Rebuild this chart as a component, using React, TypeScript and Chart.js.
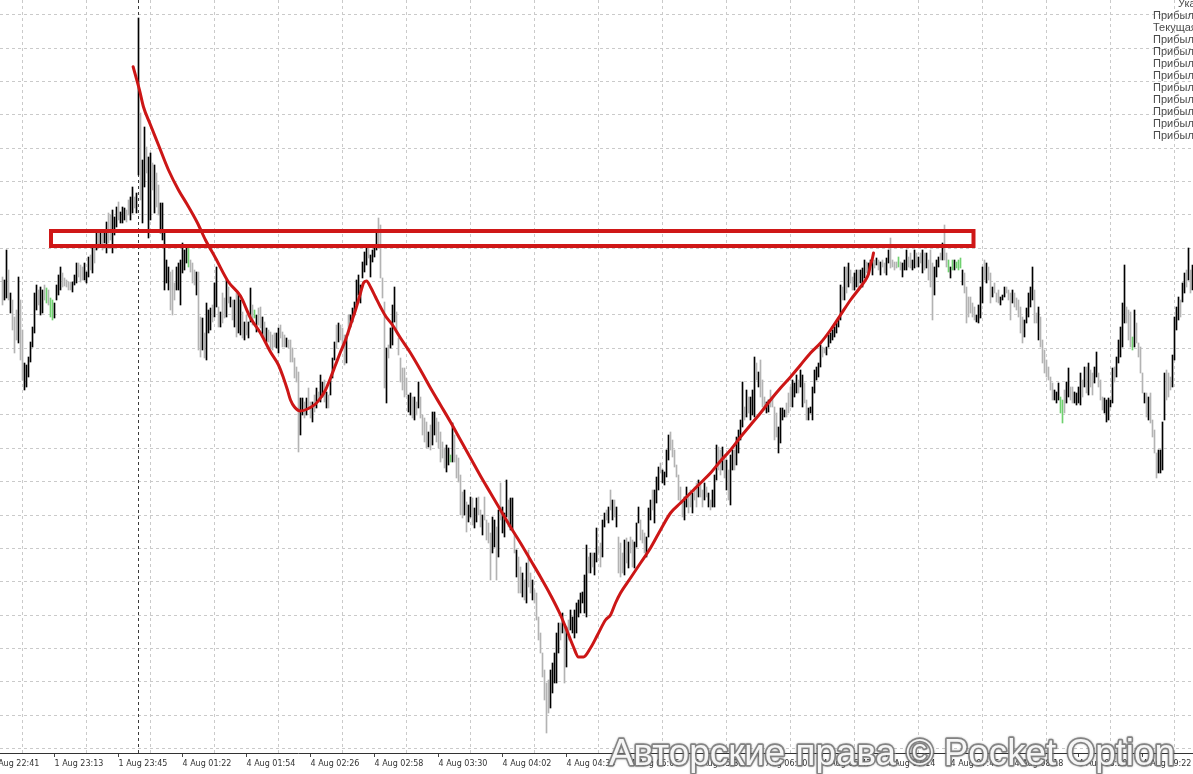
import React, { useEffect, useRef } from 'react';
import { Chart, registerables } from 'chart.js';

Chart.register(...registerables);

// ---- time axis (one label every 32 one-minute bars) ----
const TIME_LABELS = [
  '1 Aug 22:41', '1 Aug 23:13', '1 Aug 23:45', '4 Aug 01:22', '4 Aug 01:54', '4 Aug 02:26',
  '4 Aug 02:58', '4 Aug 03:30', '4 Aug 04:02', '4 Aug 04:34', '4 Aug 05:06', '4 Aug 05:38',
  '4 Aug 06:10', '4 Aug 06:42', '4 Aug 07:14', '4 Aug 07:46', '4 Aug 08:18', '4 Aug 08:50',
  '4 Aug 09:22',
];
const FIRST_LABEL_BAR = -6;
const BARS_PER_LABEL = 32;

// ---- price bars (points) ----
const BAR_HIGH = [
  1714, 1705, 1795, 1735, 1666, 1645, 1594, 1615, 1714, 1645,
  1555, 1456, 1450, 1474, 1519, 1564, 1666, 1690, 1675, 1684,
  1675, 1690, 1681, 1675, 1651, 1645, 1636, 1690, 1720, 1744,
  1726, 1711, 1705, 1699, 1699, 1699, 1720, 1756, 1756, 1750,
  1744, 1756, 1729, 1774, 1780, 1804, 1804, 1846, 1846, 1855,
  1846, 1855, 1879, 1906, 1900, 1915, 1894, 1924, 1939, 1909,
  1924, 1921, 1915, 1945, 1954, 1984, 1954, 1966, 2491, 2206,
  2065, 2164, 2104, 2074, 2086, 2056, 2050, 2026, 1990, 1936,
  1936, 1855, 1765, 1744, 1729, 1735, 1696, 1744, 1756, 1765,
  1816, 1795, 1804, 1801, 1765, 1756, 1735, 1729, 1729, 1594,
  1591, 1546, 1636, 1615, 1621, 1630, 1696, 1744, 1624, 1609,
  1666, 1651, 1705, 1684, 1654, 1645, 1645, 1666, 1666, 1645,
  1609, 1579, 1600, 1579, 1681, 1630, 1615, 1600, 1621, 1624,
  1594, 1579, 1561, 1555, 1549, 1540, 1546, 1546, 1561, 1570,
  1549, 1540, 1531, 1525, 1525, 1501, 1471, 1444, 1429, 1351,
  1351, 1339, 1351, 1381, 1339, 1339, 1360, 1381, 1369, 1420,
  1399, 1405, 1369, 1360, 1411, 1471, 1519, 1570, 1576, 1570,
  1561, 1540, 1540, 1600, 1600, 1621, 1639, 1705, 1720, 1690,
  1759, 1789, 1810, 1801, 1780, 1795, 1810, 1849, 1891, 1870,
  1711, 1639, 1501, 1510, 1561, 1630, 1684, 1609, 1531, 1471,
  1441, 1441, 1411, 1360, 1366, 1354, 1354, 1339, 1399, 1354,
  1300, 1291, 1279, 1249, 1270, 1309, 1309, 1291, 1279, 1249,
  1219, 1201, 1210, 1201, 1180, 1276, 1240, 1180, 1171, 1120,
  1069, 1075, 1039, 1030, 1054, 1051, 1021, 1051, 1054, 1015,
  1000, 1054, 985, 976, 946, 994, 985, 964, 1015, 1096,
  1024, 1006, 1105, 1045, 1051, 1051, 946, 895, 874, 844,
  826, 805, 856, 895, 826, 805, 775, 766, 694, 646,
  586, 535, 496, 505, 535, 556, 586, 646, 676, 676,
  706, 664, 664, 685, 715, 694, 715, 736, 745, 766,
  769, 820, 910, 874, 886, 886, 886, 961, 904, 916,
  985, 1006, 1015, 1024, 1075, 1045, 1045, 1024, 934, 916,
  886, 925, 931, 919, 934, 925, 919, 976, 1024, 985,
  955, 946, 934, 1021, 1045, 1075, 1075, 1114, 1144, 1156,
  1135, 1129, 1195, 1240, 1249, 1225, 1195, 1150, 1120, 1084,
  1045, 1054, 1084, 1066, 1075, 1066, 1084, 1096, 1105, 1096,
  1075, 1096, 1084, 1066, 1045, 1075, 1120, 1210, 1204, 1195,
  1204, 1180, 1165, 1135, 1180, 1195, 1195, 1234, 1255, 1285,
  1399, 1324, 1375, 1354, 1354, 1375, 1474, 1456, 1429, 1465,
  1405, 1354, 1339, 1345, 1375, 1354, 1324, 1306, 1264, 1321,
  1321, 1315, 1336, 1366, 1384, 1405, 1396, 1420, 1405, 1435,
  1420, 1396, 1345, 1321, 1324, 1384, 1435, 1444, 1456, 1510,
  1504, 1501, 1504, 1540, 1546, 1555, 1564, 1576, 1591, 1690,
  1684, 1744, 1744, 1756, 1735, 1714, 1726, 1735, 1735, 1735,
  1741, 1765, 1759, 1756, 1765, 1765, 1765, 1771, 1765, 1759,
  1765, 1756, 1771, 1795, 1831, 1765, 1759, 1759, 1774, 1759,
  1756, 1765, 1795, 1774, 1786, 1765, 1795, 1786, 1774, 1786,
  1795, 1786, 1786, 1765, 1795, 1756, 1744, 1765, 1774, 1786,
  1816, 1870, 1786, 1765, 1744, 1765, 1765, 1759, 1765, 1771,
  1735, 1726, 1684, 1654, 1654, 1636, 1624, 1600, 1630, 1684,
  1744, 1765, 1756, 1744, 1726, 1684, 1696, 1666, 1675, 1654,
  1660, 1684, 1684, 1675, 1666, 1675, 1666, 1651, 1645, 1624,
  1594, 1585, 1621, 1666, 1684, 1744, 1675, 1606, 1624, 1594,
  1525, 1495, 1465, 1444, 1414, 1396, 1375, 1369, 1396, 1354,
  1345, 1375, 1399, 1441, 1384, 1384, 1369, 1366, 1384, 1426,
  1405, 1444, 1444, 1456, 1435, 1426, 1444, 1489, 1426, 1405,
  1354, 1351, 1345, 1351, 1345, 1441, 1444, 1474, 1525, 1564,
  1636, 1750, 1624, 1615, 1609, 1534, 1615, 1576, 1516, 1504,
  1426, 1366, 1366, 1354, 1366, 1285, 1255, 1186, 1195, 1195,
  1279, 1426, 1435, 1426, 1414, 1480, 1594, 1624, 1654, 1645,
  1696, 1726, 1735, 1801, 1735, 1750,
];

const BAR_LOW = [
  1630, 1645, 1651, 1645, 1606, 1555, 1486, 1525, 1516, 1465,
  1405, 1375, 1384, 1414, 1459, 1504, 1546, 1615, 1630, 1600,
  1606, 1645, 1636, 1630, 1594, 1585, 1591, 1645, 1660, 1675,
  1684, 1687, 1684, 1675, 1675, 1669, 1690, 1696, 1714, 1699,
  1705, 1705, 1696, 1714, 1735, 1726, 1756, 1795, 1801, 1804,
  1795, 1816, 1786, 1816, 1825, 1786, 1840, 1864, 1885, 1876,
  1876, 1885, 1879, 1900, 1885, 1906, 1921, 1906, 2020, 1945,
  1876, 1984, 2026, 1831, 1885, 1975, 1906, 1924, 1900, 1846,
  1825, 1675, 1696, 1675, 1615, 1600, 1645, 1675, 1675, 1630,
  1726, 1735, 1756, 1744, 1729, 1696, 1690, 1660, 1495, 1474,
  1495, 1471, 1465, 1546, 1555, 1579, 1594, 1624, 1564, 1564,
  1576, 1591, 1594, 1636, 1624, 1585, 1564, 1534, 1546, 1540,
  1531, 1525, 1540, 1531, 1579, 1570, 1591, 1549, 1570, 1561,
  1534, 1525, 1519, 1519, 1501, 1495, 1504, 1501, 1486, 1531,
  1504, 1504, 1504, 1501, 1459, 1459, 1411, 1399, 1189, 1240,
  1300, 1291, 1300, 1321, 1291, 1279, 1309, 1321, 1339, 1339,
  1354, 1339, 1321, 1321, 1360, 1411, 1465, 1501, 1519, 1525,
  1501, 1450, 1456, 1540, 1564, 1579, 1600, 1630, 1660, 1636,
  1711, 1729, 1750, 1771, 1714, 1759, 1774, 1795, 1801, 1711,
  1651, 1381, 1336, 1471, 1501, 1510, 1579, 1549, 1480, 1399,
  1375, 1354, 1360, 1309, 1300, 1291, 1285, 1300, 1321, 1291,
  1240, 1219, 1201, 1204, 1195, 1210, 1240, 1219, 1201, 1159,
  1171, 1141, 1129, 1150, 1159, 1159, 1159, 1111, 1099, 1000,
  991, 1000, 949, 979, 994, 970, 961, 979, 1000, 964,
  940, 985, 925, 916, 805, 886, 904, 805, 874, 985,
  946, 934, 994, 964, 955, 955, 886, 814, 766, 766,
  754, 745, 736, 784, 766, 745, 736, 685, 625, 586,
  514, 445, 346, 406, 421, 466, 496, 496, 586, 625,
  646, 496, 544, 625, 655, 646, 631, 646, 694, 706,
  736, 706, 694, 826, 826, 844, 820, 859, 886, 844,
  874, 964, 985, 976, 1015, 985, 994, 964, 826, 814,
  826, 820, 856, 841, 886, 844, 841, 904, 976, 925,
  916, 886, 874, 934, 985, 1015, 976, 1036, 1075, 1126,
  1096, 1090, 1114, 1165, 1195, 1174, 1144, 1114, 1045, 1036,
  994, 985, 1024, 1006, 1024, 1006, 1045, 1024, 1054, 1054,
  1024, 1045, 1054, 1024, 1015, 1024, 1024, 1105, 1135, 1120,
  1135, 1111, 1075, 1045, 1030, 1135, 1135, 1150, 1186, 1225,
  1264, 1285, 1294, 1306, 1285, 1300, 1294, 1405, 1384, 1354,
  1324, 1315, 1306, 1309, 1324, 1324, 1225, 1234, 1186, 1216,
  1285, 1294, 1294, 1306, 1324, 1324, 1354, 1366, 1366, 1384,
  1324, 1336, 1285, 1285, 1306, 1285, 1366, 1405, 1414, 1444,
  1474, 1486, 1480, 1504, 1516, 1525, 1534, 1546, 1564, 1585,
  1645, 1645, 1666, 1684, 1696, 1675, 1675, 1684, 1684, 1696,
  1684, 1711, 1726, 1726, 1750, 1720, 1741, 1750, 1735, 1720,
  1744, 1726, 1720, 1756, 1741, 1744, 1735, 1741, 1744, 1735,
  1714, 1735, 1735, 1744, 1741, 1735, 1741, 1744, 1744, 1756,
  1726, 1735, 1741, 1705, 1684, 1585, 1660, 1714, 1744, 1765,
  1765, 1765, 1744, 1729, 1711, 1735, 1735, 1741, 1735, 1741,
  1690, 1666, 1576, 1594, 1606, 1594, 1585, 1579, 1576, 1591,
  1636, 1705, 1696, 1705, 1636, 1654, 1666, 1639, 1636, 1630,
  1645, 1654, 1666, 1645, 1585, 1636, 1624, 1615, 1594, 1546,
  1516, 1534, 1576, 1594, 1624, 1645, 1576, 1576, 1525, 1504,
  1456, 1426, 1414, 1405, 1375, 1345, 1345, 1336, 1345, 1306,
  1276, 1306, 1336, 1354, 1345, 1336, 1336, 1330, 1336, 1330,
  1354, 1384, 1366, 1360, 1384, 1360, 1396, 1414, 1384, 1345,
  1315, 1306, 1279, 1285, 1324, 1336, 1399, 1414, 1456, 1474,
  1504, 1576, 1576, 1525, 1504, 1495, 1504, 1516, 1474, 1426,
  1366, 1336, 1294, 1285, 1276, 1234, 1186, 1111, 1126, 1126,
  1135, 1285, 1345, 1354, 1375, 1384, 1465, 1555, 1585, 1594,
  1639, 1666, 1684, 1705, 1666, 1675,
];

// k = up bar (black), s = down bar (silver), g = unchanged bar (green)
const BAR_KIND = `
s k k s k s s s k s  s k k k k k k k s k  k s g s g g k k k k  s s s s s k k k s s
s k k k s k s k s k  s k k s s k k k s k  k k s s k k s k k s  k k s k k s k s s k
k k k k s s s k k k  k k k g s s s k s s  k s k k k s k k s k  s s k s k s k s k k
s k s k k s g k s s  k s k s s s s k k s  s s k s s s s s s k  k s k s s k s k s k
k s k s k k k s k s  s s k s k k k k k k  k k k s k k k k s s  s s k s k k k s s s
s s s k k s k s k s  s s s k s k k s s s  s s k k g k s s s s  s k s k k s k k s s
k s s s s k k s k s  k k k s k k s k s s  k s k s s k s s s s  s s s s k k k k k s
k s k s k k k k k k  k k k s k s k k s s  k k s k s k s k s s  s k s k s s k k k s
s s k k k s k k k s  k k k k s s s s s s  s k k s s k s s k s  s k s k s k k k s s
k s k s k k s k k k  k s k s k k k s k s  s s k k s s s s k k  k k s s s k k k s k
k s s k k k k k k k  s s k k k k k k k k  s k s k s s k k s k  k k s k k k s k s k
s s k k s s s s g s  k k k s s k k s k s  k s k s s s k k k s  k s s g k g k g g g
k s s s s s s k k k  k s k s s k s s s k  k k s s s k s s s s  s k k k k k s s k s
s s s s s s k k k g  g s k k s s k k k k  s k s k s s k k s s  s k k k k k s k k k
k k s s s g k s s s  s k s k s s s s k k  k k s s s k k k k s  k k s k s k
`.replace(/\s+/g, '').split('');

const KIND_COLORS: Record<string, string> = { k: '#000000', s: '#b3b3b3', g: '#6fd06f' };

// ---- hand-drawn trend curve (bar index, price) ----
const TREND_X = [
  65.3, 68.5, 70.5, 74, 78, 83, 88, 92.5, 97.5, 101.5,
  106.5, 113, 119, 124, 129, 134, 138, 140.5, 142.5, 144,
  146, 149, 152.5, 156.5, 159, 161.5, 164, 166.5, 169, 171.5,
  174, 176.5, 179, 180.5, 182, 184, 186.5, 189, 191.5, 195,
  199, 204, 209, 214, 219, 224, 229, 234, 239, 244,
  249, 254, 259, 264, 269, 274, 279, 282.5, 285.5, 288,
  290.5, 294, 297.5, 301.5, 304, 306.5, 309, 314, 319, 324,
  329, 334, 339, 344, 349, 354, 359, 364, 369, 374,
  379, 384, 389, 394, 399, 404, 409, 414, 419, 424,
  429, 431.5, 433, 434, 435, 435.5,
];
const TREND_Y = [
  2345, 2275, 2224, 2170, 2110, 2035, 1975, 1930, 1876, 1825,
  1771, 1699, 1657, 1591, 1546, 1489, 1450, 1411, 1375, 1345,
  1324, 1312, 1318, 1333, 1351, 1375, 1411, 1450, 1489, 1525,
  1570, 1615, 1666, 1696, 1702, 1684, 1654, 1624, 1597, 1570,
  1531, 1486, 1435, 1381, 1330, 1279, 1225, 1171, 1117, 1066,
  1015, 964, 916, 865, 814, 760, 700, 649, 604, 574,
  574, 601, 640, 685, 700, 736, 766, 811, 856, 901,
  955, 1006, 1036, 1066, 1096, 1126, 1162, 1195, 1234, 1270,
  1306, 1345, 1381, 1414, 1450, 1486, 1516, 1555, 1600, 1645,
  1684, 1705, 1723, 1750, 1771, 1786,
];

// ---- resistance zone rectangle ----
const ZONE_X = [24.25, 485.5];
const ZONE_Y = [1807, 1852];

// ---- day separator ----
const SEPARATOR_X = 68;

// ---- scale ranges ----
const X_MIN = -1.25;
const X_MAX = 595.25;
const Y_MIN = 286;
const Y_MAX = 2545;
const Y_GRID_STEP = 100;

const INFO_LINES = [
  'Указатель', 'Прибыль', 'Текущая', 'Прибыль', 'Прибыль', 'Прибыль', 'Прибыль',
  'Прибыль', 'Прибыль', 'Прибыль', 'Прибыль', 'Прибыль',
];
const WATERMARK = 'Авторские права © Pocket Option';

const isLabelTick = (v: number) => (v - FIRST_LABEL_BAR) % BARS_PER_LABEL === 0;

const overlayPlugin = {
  id: 'overlay',
  afterDraw(chart: any) {
    const ctx: CanvasRenderingContext2D = chart.ctx;
    ctx.save();
    ctx.font = '11px "Liberation Sans", Arial, sans-serif';
    ctx.fillStyle = '#4a4a4a';
    ctx.textBaseline = 'middle';
    ctx.textAlign = 'left';
    INFO_LINES.forEach((t, i) => {
      ctx.fillText(t, i === 0 ? 1178 : 1153, 4 + 12 * i);
    });
    ctx.restore();

    ctx.save();
    ctx.font = '34px "Liberation Sans", Arial, sans-serif';
    ctx.textBaseline = 'alphabetic';
    ctx.textAlign = 'left';
    const w = ctx.measureText(WATERMARK).width;
    ctx.translate(609, 765);
    ctx.scale(566 / w, 1.1);
    ctx.lineJoin = 'round';
    ctx.shadowColor = 'rgba(0,0,0,0.35)';
    ctx.shadowBlur = 2;
    ctx.lineWidth = 3;
    ctx.strokeStyle = 'rgba(120,120,120,0.85)';
    ctx.strokeText(WATERMARK, 0, 0);
    ctx.shadowBlur = 0;
    ctx.shadowColor = 'transparent';
    ctx.fillStyle = 'rgba(255,255,255,0.93)';
    ctx.fillText(WATERMARK, 0, 0);
    ctx.restore();
  },
};

export default function App() {
  const ref = useRef<HTMLCanvasElement>(null);

  useEffect(() => {
    document.body.style.margin = '0';
    const canvas = ref.current;
    if (!canvas) return;

    const bars = BAR_HIGH.map((h, i) => ({ x: i, y: [BAR_LOW[i], h] }));
    const colors = BAR_KIND.map((k) => KIND_COLORS[k] || '#000');
    const trend = TREND_X.map((x, i) => ({ x, y: TREND_Y[i] }));
    const zone = [
      { x: ZONE_X[0], y: ZONE_Y[1] },
      { x: ZONE_X[1], y: ZONE_Y[1] },
      { x: ZONE_X[1], y: ZONE_Y[0] },
      { x: ZONE_X[0], y: ZONE_Y[0] },
      { x: ZONE_X[0], y: ZONE_Y[1] },
    ];
    const xTicks: number[] = [];
    for (let v = FIRST_LABEL_BAR; v <= X_MAX; v += BARS_PER_LABEL / 2) xTicks.push(v);
    const yTicks: number[] = [];
    for (let v = Math.ceil(Y_MIN / Y_GRID_STEP) * Y_GRID_STEP; v <= Y_MAX; v += Y_GRID_STEP) yTicks.push(v);

    const chart = new Chart(canvas, {
      type: 'bar',
      data: {
        datasets: [
          {
            type: 'line',
            data: trend as any,
            borderColor: '#cc1616',
            borderWidth: 3,
            cubicInterpolationMode: 'monotone',
            pointRadius: 0,
            borderCapStyle: 'round',
            borderJoinStyle: 'round',
            order: 0,
          } as any,
          {
            type: 'line',
            data: zone as any,
            borderColor: '#cf1717',
            borderWidth: 4,
            tension: 0,
            pointRadius: 0,
            borderCapStyle: 'square',
            borderJoinStyle: 'miter',
            order: 1,
          } as any,
          {
            type: 'bar',
            data: bars as any,
            backgroundColor: colors,
            barThickness: 1,
            borderWidth: 0,
            order: 2,
          } as any,
          {
            type: 'line',
            data: [
              { x: SEPARATOR_X, y: Y_MIN },
              { x: SEPARATOR_X, y: Y_MAX },
            ] as any,
            borderColor: '#3a3a3a',
            borderWidth: 1,
            borderDash: [3, 3],
            pointRadius: 0,
            order: 3,
          } as any,
        ],
      },
      options: {
        animation: false,
        responsive: false,
        events: [],
        layout: { padding: 0 },
        plugins: {
          legend: { display: false },
          tooltip: { enabled: false },
          title: { display: false },
        },
        scales: {
          x: {
            type: 'linear',
            min: X_MIN,
            max: X_MAX,
            offset: false,
            afterBuildTicks: (s: any) => {
              s.ticks = xTicks.map((v) => ({ value: v }));
            },
            afterFit: (s: any) => {
              s.height = 21;
              s.paddingLeft = 0;
              s.paddingRight = 0;
            },
            ticks: {
              autoSkip: false,
              maxRotation: 0,
              minRotation: 0,
              align: 'start',
              padding: 2,
              color: '#333333',
              font: { family: '"DejaVu Sans"', size: 8 },
              callback: (v: any) => {
                const n = Number(v);
                if (!isLabelTick(n)) return '';
                return TIME_LABELS[(n - FIRST_LABEL_BAR) / BARS_PER_LABEL] || '';
              },
            },
            grid: {
              offset: false,
              drawTicks: true,
              tickLength: 4,
              lineWidth: 1,
              color: (c: any) => (c.tick && isLabelTick(c.tick.value) ? 'rgba(0,0,0,0)' : '#cacaca'),
              tickColor: (c: any) => (c.tick && isLabelTick(c.tick.value) ? '#444444' : 'rgba(0,0,0,0)'),
            },
            border: { display: true, color: '#333333', width: 1, dash: [3, 3] },
          },
          y: {
            type: 'linear',
            position: 'left',
            min: Y_MIN,
            max: Y_MAX,
            afterBuildTicks: (s: any) => {
              s.ticks = yTicks.map((v) => ({ value: v }));
            },
            afterFit: (s: any) => {
              s.width = 0;
            },
            ticks: { display: false },
            grid: { color: '#cacaca', drawTicks: false, lineWidth: 1 },
            border: { display: false, dash: [3, 3] },
          },
        },
      } as any,
      plugins: [overlayPlugin],
    });

    return () => chart.destroy();
  }, []);

  return (
    <div style={{ width: 1193, height: 774, background: '#ffffff' }}>
      <canvas ref={ref} width={1193} height={774} style={{ display: 'block' }} />
    </div>
  );
}
